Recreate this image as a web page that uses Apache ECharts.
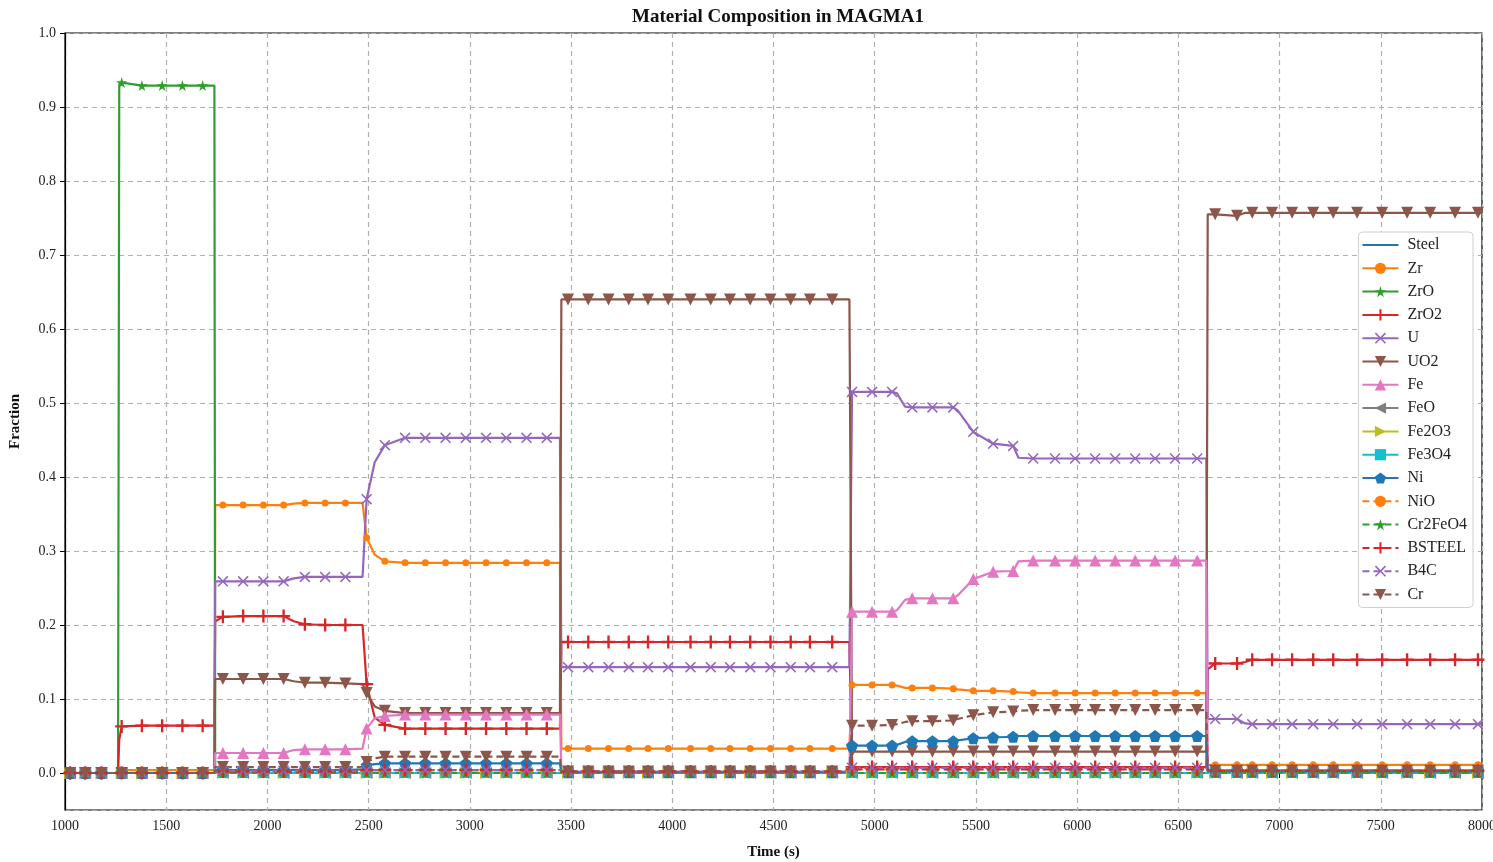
<!DOCTYPE html>
<html style="height: 100%">
<head>
    <meta charset="utf-8">
    <title>Material Composition in MAGMA1</title>
    <script src="https://cdn.jsdelivr.net/npm/echarts@6/dist/echarts.min.js"></script>
</head>
<body style="height: 100%; margin: 0; background: #fff">
<div id="main" style="width: 1493px; height: 862px"></div>
<script type="text/javascript">
// time points (s); segments: before 1265 | 1265-1740 | 1740-2475 | 2475-3450 | 3450-4880 | 4880-6640 | after 6640
var time = [
    1000, 1025, 1100, 1180, 1262,
    1268, 1280, 1380, 1480, 1580, 1680, 1738,
    1742, 1780, 1880, 1980, 2080, 2130, 2185, 2285, 2385, 2470,
    2490, 2530, 2580, 2680, 2780, 2880, 2980, 3080, 3180, 3280, 3380, 3445,
    3452, 3485, 3585, 3685, 3785, 3880, 3980, 4090, 4190, 4285, 4385, 4485, 4585, 4680, 4790, 4875,
    4888, 4987, 5086, 5110, 5150, 5185, 5285, 5388, 5410, 5487, 5585, 5684, 5710, 5783, 5891, 5990, 6089, 6188, 6287, 6385, 6484, 6593, 6638,
    6645, 6682, 6790, 6830, 6865, 6963, 7062, 7166, 7265, 7383, 7507, 7630, 7744, 7867, 7980, 8000
];
// points on the steps / bends that carry no marker
var bendTimes = [1000, 1262, 1268, 1738, 1742, 2130, 2470, 2530, 3445, 3452, 4875, 5110, 5150, 5410, 5710, 6638, 6645, 6830, 8000];

var nearZero = [
    0, 0, 0, 0, 0,
    0, 0, 0, 0, 0, 0, 0,
    0, 0, 0, 0, 0, 0, 0, 0, 0, 0,
    0, 0, 0, 0, 0, 0, 0, 0, 0, 0, 0, 0,
    0, 0, 0, 0, 0, 0, 0, 0, 0, 0, 0, 0, 0, 0, 0, 0,
    0, 0, 0, 0, 0, 0, 0, 0, 0, 0, 0, 0, 0, 0, 0, 0, 0, 0, 0, 0, 0, 0, 0,
    0, 0, 0, 0, 0, 0, 0, 0, 0, 0, 0, 0, 0, 0, 0, 0
];
var zr = [
    0, 0, 0, 0, 0,
    0.004, 0.004, 0.004, 0.004, 0.004, 0.004, 0.004,
    0.362, 0.362, 0.362, 0.362, 0.362, 0.364, 0.365, 0.365, 0.365, 0.365,
    0.318, 0.295, 0.286, 0.284, 0.284, 0.284, 0.284, 0.284, 0.284, 0.284, 0.284, 0.284,
    0.033, 0.033, 0.033, 0.033, 0.033, 0.033, 0.033, 0.033, 0.033, 0.033, 0.033, 0.033, 0.033, 0.033, 0.033, 0.033,
    0.119, 0.119, 0.119, 0.118, 0.115, 0.115, 0.115, 0.114, 0.113, 0.111, 0.111, 0.110, 0.109, 0.108, 0.108, 0.108, 0.108, 0.108, 0.108, 0.108, 0.108, 0.108, 0.108,
    0.011, 0.011, 0.011, 0.011, 0.011, 0.011, 0.011, 0.011, 0.011, 0.011, 0.011, 0.011, 0.011, 0.011, 0.011, 0.011
];
var zrO = [
    0, 0, 0, 0, 0,
    0.930, 0.933, 0.929, 0.929, 0.929, 0.929, 0.929,
    0, 0, 0, 0, 0, 0, 0, 0, 0, 0,
    0, 0, 0, 0, 0, 0, 0, 0, 0, 0, 0, 0,
    0, 0, 0, 0, 0, 0, 0, 0, 0, 0, 0, 0, 0, 0, 0, 0,
    0, 0, 0, 0, 0, 0, 0, 0, 0, 0, 0, 0, 0, 0, 0, 0, 0, 0, 0, 0, 0, 0, 0,
    0, 0, 0, 0, 0, 0, 0, 0, 0, 0, 0, 0, 0, 0, 0, 0
];
var zrO2 = [
    0, 0, 0, 0, 0,
    0.045, 0.063, 0.064, 0.064, 0.064, 0.064, 0.064,
    0.205, 0.211, 0.212, 0.212, 0.212, 0.205, 0.201, 0.200, 0.200, 0.200,
    0.120, 0.075, 0.065, 0.060, 0.060, 0.060, 0.060, 0.060, 0.060, 0.060, 0.060, 0.060,
    0.177, 0.177, 0.177, 0.177, 0.177, 0.177, 0.177, 0.177, 0.177, 0.177, 0.177, 0.177, 0.177, 0.177, 0.177, 0.177,
    0.008, 0.008, 0.008, 0.008, 0.008, 0.008, 0.008, 0.008, 0.008, 0.008, 0.008, 0.008, 0.008, 0.008, 0.008, 0.008, 0.008, 0.008, 0.008, 0.008, 0.008, 0.008, 0.008,
    0.140, 0.148, 0.148, 0.150, 0.153, 0.153, 0.153, 0.153, 0.153, 0.153, 0.153, 0.153, 0.153, 0.153, 0.153, 0.153
];
var u = [
    0, 0, 0, 0, 0,
    0, 0, 0, 0, 0, 0, 0,
    0.259, 0.259, 0.259, 0.259, 0.259, 0.263, 0.265, 0.265, 0.265, 0.265,
    0.370, 0.420, 0.443, 0.453, 0.453, 0.453, 0.453, 0.453, 0.453, 0.453, 0.453, 0.453,
    0.143, 0.143, 0.143, 0.143, 0.143, 0.143, 0.143, 0.143, 0.143, 0.143, 0.143, 0.143, 0.143, 0.143, 0.143, 0.143,
    0.515, 0.515, 0.515, 0.513, 0.495, 0.494, 0.494, 0.494, 0.490, 0.461, 0.445, 0.442, 0.426, 0.425, 0.425, 0.425, 0.425, 0.425, 0.425, 0.425, 0.425, 0.425, 0.425,
    0.073, 0.073, 0.073, 0.067, 0.066, 0.066, 0.066, 0.066, 0.066, 0.066, 0.066, 0.066, 0.066, 0.066, 0.066, 0.066
];
var uo2 = [
    0, 0, 0, 0, 0,
    0, 0, 0, 0, 0, 0, 0,
    0.127, 0.127, 0.127, 0.127, 0.127, 0.124, 0.122, 0.122, 0.121, 0.120,
    0.108, 0.090, 0.084, 0.081, 0.081, 0.081, 0.081, 0.081, 0.081, 0.081, 0.081, 0.081,
    0.640, 0.640, 0.640, 0.640, 0.640, 0.640, 0.640, 0.640, 0.640, 0.640, 0.640, 0.640, 0.640, 0.640, 0.640, 0.640,
    0.029, 0.029, 0.029, 0.029, 0.029, 0.029, 0.029, 0.029, 0.029, 0.029, 0.029, 0.029, 0.029, 0.029, 0.029, 0.029, 0.029, 0.029, 0.029, 0.029, 0.029, 0.029, 0.029,
    0.755, 0.755, 0.753, 0.757, 0.757, 0.757, 0.757, 0.757, 0.757, 0.757, 0.757, 0.757, 0.757, 0.757, 0.757, 0.757
];
var fe = [
    0, 0, 0, 0, 0,
    0, 0, 0, 0, 0, 0, 0,
    0.027, 0.027, 0.027, 0.027, 0.027, 0.031, 0.032, 0.032, 0.032, 0.033,
    0.060, 0.074, 0.077, 0.079, 0.079, 0.079, 0.079, 0.079, 0.079, 0.079, 0.079, 0.079,
    0.002, 0.002, 0.002, 0.002, 0.002, 0.002, 0.002, 0.002, 0.002, 0.002, 0.002, 0.002, 0.002, 0.002, 0.002, 0.002,
    0.218, 0.218, 0.218, 0.220, 0.234, 0.236, 0.236, 0.236, 0.240, 0.262, 0.272, 0.273, 0.286, 0.287, 0.287, 0.287, 0.287, 0.287, 0.287, 0.287, 0.287, 0.287, 0.287,
    0.004, 0.004, 0.004, 0.004, 0.004, 0.004, 0.004, 0.004, 0.004, 0.004, 0.004, 0.004, 0.004, 0.004, 0.004, 0.004
];
var ni = [
    0, 0, 0, 0, 0,
    0, 0, 0, 0, 0, 0, 0,
    0.004, 0.004, 0.004, 0.004, 0.004, 0.004, 0.004, 0.004, 0.004, 0.005,
    0.010, 0.012, 0.013, 0.013, 0.013, 0.013, 0.013, 0.013, 0.013, 0.013, 0.013, 0.013,
    0.001, 0.001, 0.001, 0.001, 0.001, 0.001, 0.001, 0.001, 0.001, 0.001, 0.001, 0.001, 0.001, 0.001, 0.001, 0.001,
    0.037, 0.037, 0.037, 0.038, 0.042, 0.043, 0.043, 0.043, 0.044, 0.047, 0.048, 0.049, 0.050, 0.050, 0.050, 0.050, 0.050, 0.050, 0.050, 0.050, 0.050, 0.050, 0.050,
    0.002, 0.002, 0.002, 0.002, 0.002, 0.002, 0.002, 0.002, 0.002, 0.002, 0.002, 0.002, 0.002, 0.002, 0.002, 0.002
];
var bsteel = [
    0, 0, 0, 0, 0,
    0, 0, 0, 0, 0, 0, 0,
    0.002, 0.002, 0.002, 0.002, 0.002, 0.002, 0.002, 0.002, 0.002, 0.002,
    0.004, 0.004, 0.004, 0.004, 0.004, 0.004, 0.004, 0.004, 0.004, 0.004, 0.004, 0.004,
    0.002, 0.002, 0.002, 0.002, 0.002, 0.002, 0.002, 0.002, 0.002, 0.002, 0.002, 0.002, 0.002, 0.002, 0.002, 0.002,
    0.005, 0.005, 0.005, 0.005, 0.005, 0.005, 0.005, 0.005, 0.005, 0.005, 0.005, 0.005, 0.005, 0.005, 0.005, 0.005, 0.005, 0.005, 0.005, 0.005, 0.005, 0.005, 0.005,
    0.003, 0.003, 0.003, 0.003, 0.003, 0.003, 0.003, 0.003, 0.003, 0.003, 0.003, 0.003, 0.003, 0.003, 0.003, 0.003
];
var b4c = [
    0, 0, 0, 0, 0,
    0, 0, 0, 0, 0, 0, 0,
    0.003, 0.003, 0.003, 0.003, 0.003, 0.003, 0.003, 0.003, 0.003, 0.003,
    0.004, 0.004, 0.004, 0.004, 0.004, 0.004, 0.004, 0.004, 0.004, 0.004, 0.004, 0.004,
    0.002, 0.002, 0.002, 0.002, 0.002, 0.002, 0.002, 0.002, 0.002, 0.002, 0.002, 0.002, 0.002, 0.002, 0.002, 0.002,
    0.007, 0.007, 0.007, 0.007, 0.007, 0.007, 0.007, 0.007, 0.007, 0.007, 0.007, 0.007, 0.007, 0.007, 0.007, 0.007, 0.007, 0.007, 0.007, 0.007, 0.007, 0.007, 0.007,
    0.003, 0.003, 0.003, 0.003, 0.003, 0.003, 0.003, 0.003, 0.003, 0.003, 0.003, 0.003, 0.003, 0.003, 0.003, 0.003
];
var cr = [
    0, 0, 0, 0, 0,
    0, 0, 0, 0, 0, 0, 0,
    0.008, 0.008, 0.008, 0.008, 0.008, 0.008, 0.008, 0.008, 0.008, 0.008,
    0.015, 0.020, 0.022, 0.022, 0.022, 0.022, 0.022, 0.022, 0.022, 0.022, 0.022, 0.022,
    0.002, 0.002, 0.002, 0.002, 0.002, 0.002, 0.002, 0.002, 0.002, 0.002, 0.002, 0.002, 0.002, 0.002, 0.002, 0.002,
    0.064, 0.064, 0.065, 0.066, 0.069, 0.070, 0.070, 0.071, 0.073, 0.078, 0.082, 0.083, 0.084, 0.085, 0.085, 0.085, 0.085, 0.085, 0.085, 0.085, 0.085, 0.085, 0.085,
    0.003, 0.003, 0.003, 0.003, 0.003, 0.003, 0.003, 0.003, 0.003, 0.003, 0.003, 0.003, 0.003, 0.003, 0.003, 0.003
];

var STAR = 'path://M50,0 L61,35 L98,35 L68,57 L79,91 L50,70 L21,91 L32,57 L2,35 L39,35 Z';
var PENTAGON = 'path://M50,0 L98,35 L79,91 L21,91 L2,35 Z';
var PLUS = 'path://M41,0 H59 V41 H100 V59 H59 V100 H41 V59 H0 V41 H41 Z';
var CROSS = 'path://M10,0 L50,40 L90,0 L100,10 L60,50 L100,90 L90,100 L50,60 L10,100 L0,90 L40,50 L0,10 Z';

// name, values, color, symbol, size, rotate, dashed
var specs = [
    ['Steel', nearZero, '#1f77b4', 'none', 0, 0, false],
    ['Zr', zr, '#ff7f0e', 'circle', 7, 0, false],
    ['ZrO', zrO, '#2ca02c', STAR, 11, 0, false],
    ['ZrO2', zrO2, '#d62728', PLUS, 13, 0, false],
    ['U', u, '#9467bd', CROSS, 11, 0, false],
    ['UO2', uo2, '#8c564b', 'triangle', 12, 180, false],
    ['Fe', fe, '#e377c2', 'triangle', 12, 0, false],
    ['FeO', nearZero, '#7f7f7f', 'triangle', 12, 90, false],
    ['Fe2O3', nearZero, '#bcbd22', 'triangle', 12, -90, false],
    ['Fe3O4', nearZero, '#17becf', 'rect', 10, 0, false],
    ['Ni', ni, '#1f77b4', PENTAGON, 12, 0, false],
    ['NiO', nearZero, '#ff7f0e', 'circle', 7, 0, true],
    ['Cr2FeO4', nearZero, '#2ca02c', STAR, 11, 0, true],
    ['BSTEEL', bsteel, '#d62728', PLUS, 13, 0, true],
    ['B4C', b4c, '#9467bd', CROSS, 11, 0, true],
    ['Cr', cr, '#8c564b', 'triangle', 12, 180, true]
];

var FONT = "'Liberation Serif', 'DejaVu Serif', serif";

var series = specs.map(function (s) {
    var size = s[4];
    return {
        name: s[0],
        type: 'line',
        data: time.map(function (t, i) { return [t, s[1][i]]; }),
        symbol: s[3],
        symbolRotate: s[5],
        symbolSize: function (val) {
            return bendTimes.indexOf(val[0]) >= 0 ? 0 : size;
        },
        showAllSymbol: true,
        clip: false,
        itemStyle: { color: s[2] },
        lineStyle: { color: s[2], width: 2.2, type: s[6] ? [7, 4] : 'solid' },
        emphasis: { disabled: true },
        animation: false
    };
});

var legendData = specs.map(function (s) {
    // Steel has no marker, so its legend key is a bare line
    return s[3] === 'none' ? { name: s[0], itemStyle: { opacity: 0 } } : { name: s[0] };
});

var myChart = echarts.init(document.getElementById('main'));
var option = {
    backgroundColor: '#fff',
    animation: false,
    title: {
        text: 'Material Composition in MAGMA1',
        left: 773,
        textAlign: 'center',
        top: 3,
        textStyle: { fontFamily: FONT, fontSize: 19, fontWeight: 'bold', color: '#111' }
    },
    legend: {
        orient: 'vertical',
        right: 20,
        top: 232,
        itemWidth: 36,
        itemHeight: 14,
        itemGap: 7.3,
        padding: [5, 6, 5, 3],
        backgroundColor: '#fff',
        borderColor: '#d0d0d0',
        borderWidth: 1,
        borderRadius: 4,
        textStyle: { fontFamily: FONT, fontSize: 16, color: '#222', padding: [0, 0, 0, 4] },
        data: legendData
    },
    grid: {
        left: 65, right: 11, top: 33, bottom: 52,
        outerBoundsMode: 'none',
        containLabel: false,
        show: true, borderColor: '#000', borderWidth: 1.2
    },
    xAxis: {
        type: 'value',
        min: 1000, max: 8000, interval: 500,
        name: 'Time (s)',
        nameLocation: 'middle',
        nameGap: 35,
        nameTextStyle: { fontFamily: FONT, fontSize: 15, fontWeight: 'bold', color: '#111' },
        axisLine: { lineStyle: { color: '#000', width: 1.2 } },
        axisTick: { length: 5, lineStyle: { color: '#000' } },
        axisLabel: {
            fontFamily: FONT, fontSize: 14, color: '#222', margin: 9,
            formatter: function (v) { return String(v); }
        },
        splitLine: { show: true, lineStyle: { color: '#b0b0b0', type: [5, 4], width: 1.2 } }
    },
    yAxis: {
        type: 'value',
        min: -0.05, max: 1.0, splitNumber: 10,
        name: 'Fraction',
        nameLocation: 'middle',
        nameGap: 42,
        nameTextStyle: { fontFamily: FONT, fontSize: 15, fontWeight: 'bold', color: '#111' },
        axisLine: { show: true, lineStyle: { color: '#000', width: 1.2 } },
        axisTick: { length: 5, lineStyle: { color: '#000' } },
        axisLabel: {
            fontFamily: FONT, fontSize: 14, color: '#222', margin: 9,
            showMinLabel: false,
            formatter: function (v) { return v < -0.001 ? '' : v.toFixed(1); }
        },
        splitLine: { show: true, lineStyle: { color: '#b0b0b0', type: [5, 4], width: 1.2 } }
    },
    series: series
};
myChart.setOption(option);
</script>
</body>
</html>
